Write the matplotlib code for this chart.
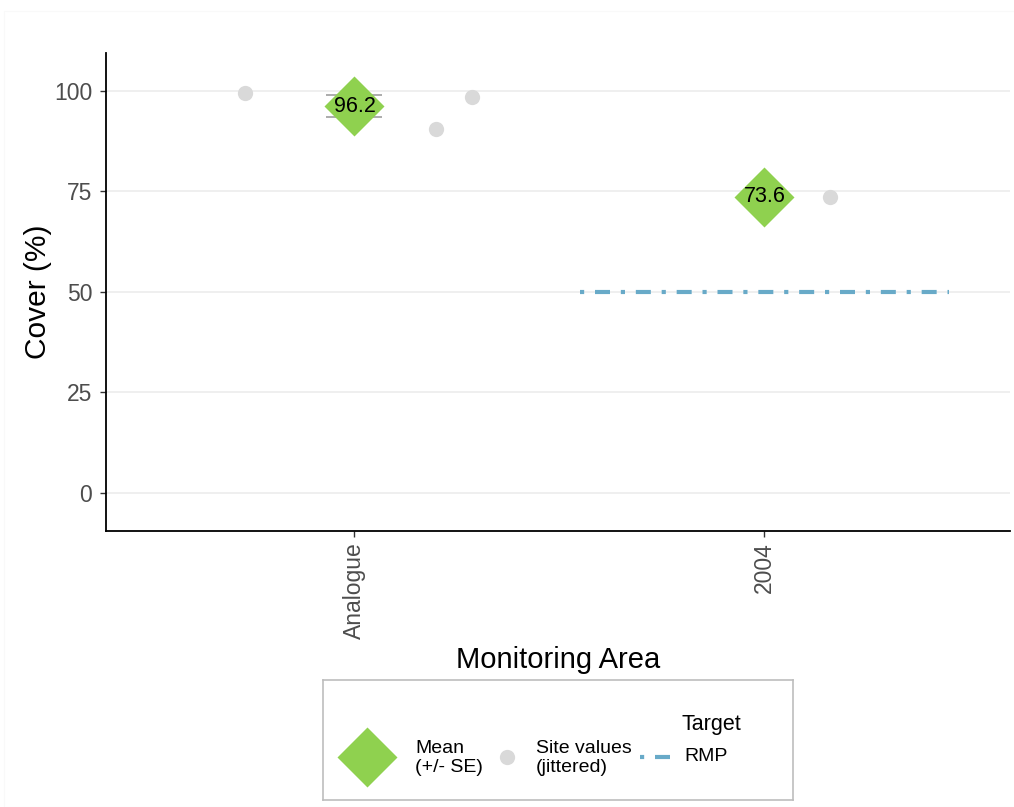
import matplotlib
matplotlib.use("Agg")
import matplotlib.pyplot as plt
from matplotlib.patches import Rectangle
import numpy as np

plt.rcParams['font.family'] = ['Liberation Sans', 'DejaVu Sans']

# Data
areas = ["Analogue", "2004"]
area_pos = [1, 2]
mean_cover = [96.2, 73.6]
se_cover = [2.8, np.nan]

site_x = [0.733, 1.199, 1.286, 2.160]       # jittered positions
site_cover = [99.5, 90.6, 98.5, 73.6]

rmp_area = "2004"
rmp_target = 50
rmp_halfwidth = 0.45

# Styles
green = "#8fd14f"
grey_pt = "#d9d9d9"
rmp_col = "#68aac8"
rmp_dash = (0, (1, 2.6, 3.6, 2.6))

W, H = 1014, 807
fig = plt.figure(figsize=(W / 100, H / 100), dpi=100)
fig.add_artist(Rectangle((4 / W, 0), 1, 1 - 11 / H, transform=fig.transFigure,
                         fill=False, edgecolor="#f9f9f9", lw=0.8))

ax = fig.add_axes([106 / W, 1 - 530.7 / H, (1010 - 106) / W, (530.7 - 53) / H])

# grid
for gy in [0, 25, 50, 75, 100]:
    ax.axhline(gy, color="#ebebeb", lw=1.1, zorder=0)

# site values
ax.plot(site_x, site_cover, 'o', ms=11, color=grey_pt, mec='none', zorder=2)

# target line
xi = area_pos[areas.index(rmp_area)]
ax.plot([xi - rmp_halfwidth, xi + rmp_halfwidth], [rmp_target, rmp_target],
        color=rmp_col, lw=3, linestyle=rmp_dash, dash_capstyle='butt', zorder=2)

# error bars (SE)
for x, m, s in zip(area_pos, mean_cover, se_cover):
    if not np.isnan(s):
        ax.errorbar([x], [m], yerr=[s], fmt='none', ecolor="#9e9e9e",
                    elinewidth=1.2, capsize=20, capthick=1.2, zorder=3)

# means
ax.plot(area_pos, mean_cover, 'D', ms=31, color=green, mec='none', zorder=4)
for x, m in zip(area_pos, mean_cover):
    ax.text(x, m, f"{m:.1f}", ha='center', va='center', fontsize=15.5,
            color='black', zorder=5)

ax.set_xlim(0.394, 2.599)
ax.set_ylim(-9.45, 109.4)
ax.set_xticks(area_pos)
ax.set_xticklabels(areas, rotation=90, fontsize=16.5, color="#4d4d4d")
ax.set_yticks([0, 25, 50, 75, 100])
ax.set_yticklabels(["0", "25", "50", "75", "100"], fontsize=16.5, color="#4d4d4d")
ax.tick_params(axis='both', length=4, width=1, color="#333333", pad=4)
ax.tick_params(axis='y', pad=6)
for side in ['top', 'right']:
    ax.spines[side].set_visible(False)
for side in ['left', 'bottom']:
    ax.spines[side].set_linewidth(1.3)
    ax.spines[side].set_color("black")

ax.set_ylabel("Cover (%)", fontsize=21.5, va='center')
ax.yaxis.set_label_coords((38 - 106) / (1010 - 106), 0.5)
ax.set_xlabel("Monitoring Area", fontsize=21, va='center')
ax.xaxis.set_label_coords(0.5, (530.7 - 660) / (530.7 - 53))

# legend panel
lx0, lx1, ly0, ly1 = 323, 793, 680, 800
lax = fig.add_axes([lx0 / W, 1 - ly1 / H, (lx1 - lx0) / W, (ly1 - ly0) / H])
lax.set_xlim(lx0, lx1)
lax.set_ylim(ly1, ly0)
lax.set_xticks([])
lax.set_yticks([])
for sp in lax.spines.values():
    sp.set_color("#bdbdbd")
    sp.set_linewidth(1.2)

lax.plot([367], [757], 'D', ms=31, color=green, mec='none')
lax.text(415, 758, "Mean\n(+/- SE)", fontsize=14, va='center', ha='left', linespacing=1.2)
lax.plot([507], [757], 'o', ms=11, color=grey_pt, mec='none')
lax.text(536, 758, "Site values\n(jittered)", fontsize=14, va='center', ha='left', linespacing=1.2)
lax.text(682, 725, "Target", fontsize=15.5, va='center', ha='left')
lax.plot([640, 673], [757, 757], color=rmp_col, lw=3, linestyle=rmp_dash, dash_capstyle='butt')
lax.text(684, 757, "RMP", fontsize=14, va='center', ha='left')

fig.savefig("out.png", dpi=100)
